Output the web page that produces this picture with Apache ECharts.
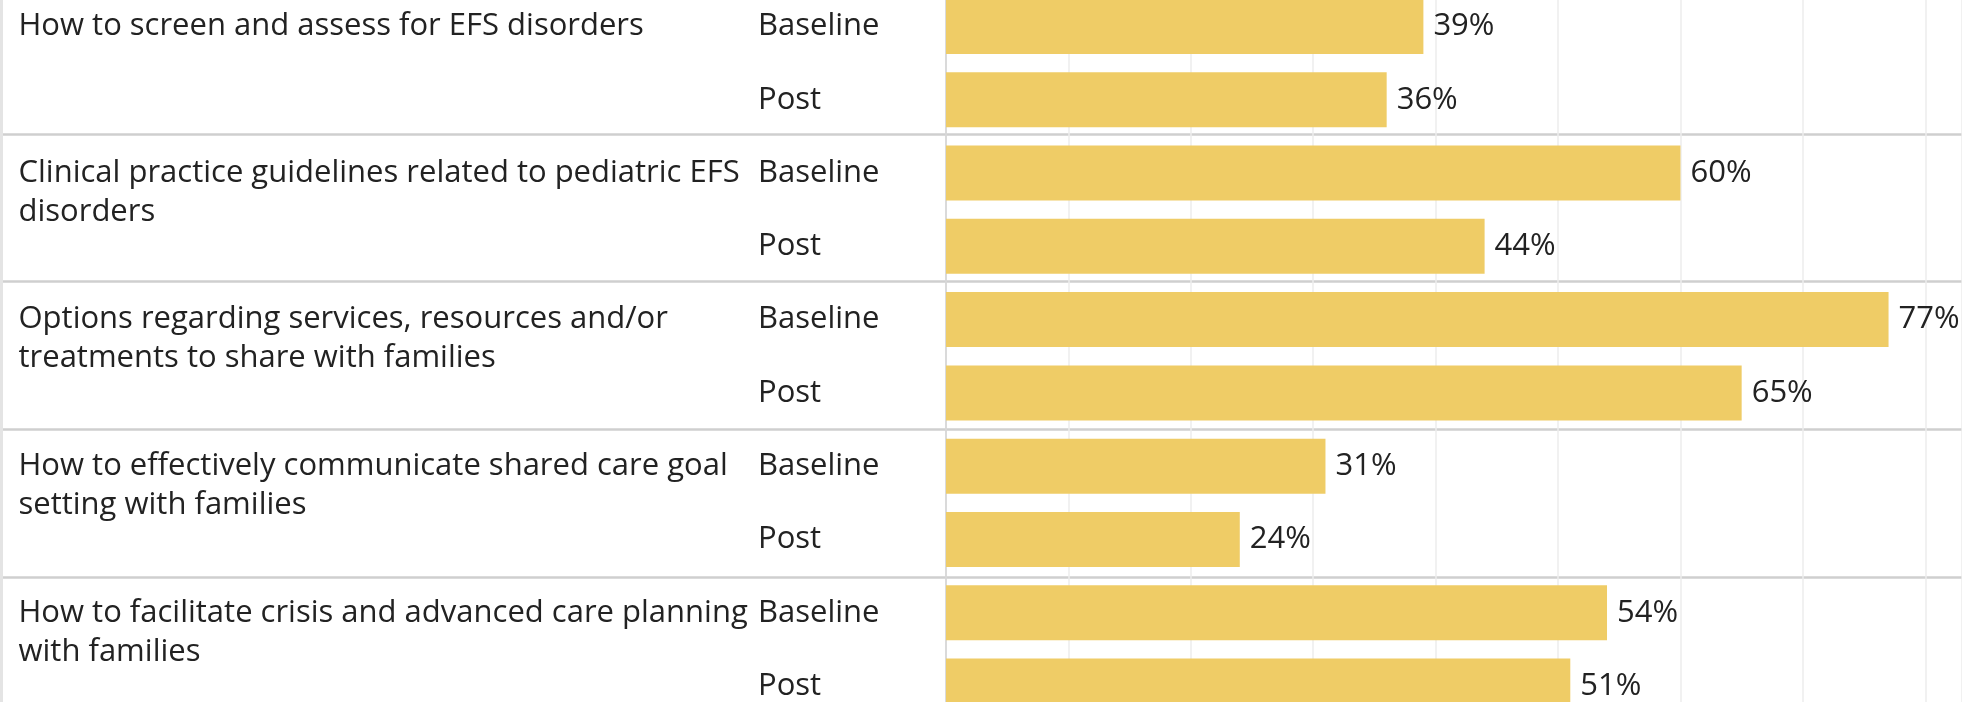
<!DOCTYPE html>
<html>
<head>
<meta charset="utf-8">
<script src="https://cdn.jsdelivr.net/npm/echarts@6/dist/echarts.min.js"></script>
<style>
html,body{margin:0;padding:0;background:#fff;}
#chart{width:1962px;height:702px;}
</style>
</head>
<body>
<div id="chart"></div>
<script>
// ---- data ----
const groups = [
  'How to screen and assess for EFS disorders',
  'Clinical practice guidelines related to pediatric EFS\ndisorders',
  'Options regarding services, resources and/or\ntreatments to share with families',
  'How to effectively communicate shared care goal\nsetting with families',
  'How to facilitate crisis and advanced care planning\nwith families'
];
const measures = ['Baseline', 'Post'];
const baselineValues = [39, 60, 77, 31, 54];
const postValues = [36, 44, 65, 24, 51];

// ---- build rows (group x measure) ----
const rowKeys = [];
const rowValues = [];
groups.forEach((g, i) => {
  rowKeys.push(i + '|' + measures[0]);
  rowValues.push(baselineValues[i]);
  rowKeys.push(i + '|' + measures[1]);
  rowValues.push(postValues[i]);
});

const FONT = 'Open Sans';
const FS = 31;
const TXT = '#222222';
const AXIS_X = 946;
// separator layout (row dividers) and bar layout
const SEP_TOP = -13.8, SEP_H = 738.8;
const BAR_TOP = -10.25, BAR_H = 733;

const chart = echarts.init(document.getElementById('chart'), null, {renderer: 'canvas'});

const sepSplit = {show: true, interval: (idx) => idx % 2 === 0, lineStyle: {color: '#cfcfcf', width: 2.5}};

chart.setOption({
  animation: false,
  backgroundColor: '#ffffff',
  grid: [
    {left: 1.5, width: AXIS_X - 1.5, top: SEP_TOP, height: SEP_H, outerBoundsMode: 'none', containLabel: false}, // 0 label pane separators
    {left: AXIS_X, right: 0, top: SEP_TOP, height: SEP_H, outerBoundsMode: 'none', containLabel: false},       // 1 bar pane separators
    {left: 1.5, width: AXIS_X - 1.5, top: BAR_TOP, height: BAR_H, outerBoundsMode: 'none', containLabel: false}, // 2 label pane labels
    {left: AXIS_X, right: 0, top: BAR_TOP, height: BAR_H, outerBoundsMode: 'none', containLabel: false}        // 3 bars
  ],
  xAxis: [
    {gridIndex: 0, type: 'value', min: 0, max: 1, show: false},
    {gridIndex: 1, type: 'value', min: 0, max: 1, show: false},
    {gridIndex: 2, type: 'value', min: 0, max: 1, show: false},
    {gridIndex: 3, type: 'value', min: 0, max: 83, interval: 10,
     axisLine: {show: false}, axisTick: {show: false}, axisLabel: {show: false},
     splitLine: {show: true, lineStyle: {color: '#ededed', width: 1.5}}}
  ],
  yAxis: [
    { // 0: left border + separators in label pane
      gridIndex: 0, type: 'category', data: rowKeys, inverse: true, position: 'left',
      axisLine: {show: true, lineStyle: {color: '#e4e4e4', width: 3}},
      axisTick: {show: false}, axisLabel: {show: false},
      splitLine: sepSplit
    },
    { // 1: separators in bar pane
      gridIndex: 1, type: 'category', data: rowKeys, inverse: true, position: 'left',
      axisLine: {show: false}, axisTick: {show: false}, axisLabel: {show: false},
      splitLine: sepSplit
    },
    { // 2: group labels
      gridIndex: 2, type: 'category', data: rowKeys, inverse: true, position: 'left',
      axisLine: {show: false}, axisTick: {show: false}, splitLine: {show: false},
      axisLabel: {
        show: true, inside: true, margin: 17, interval: 0, align: 'left',
        verticalAlign: 'top', lineHeight: 39, padding: [-19.5, 0, 0, 0],
        fontFamily: FONT, fontSize: FS, color: TXT,
        formatter: (v, idx) => idx % 2 === 0 ? groups[idx / 2] : ''
      }
    },
    { // 3: Baseline / Post labels
      gridIndex: 2, type: 'category', data: rowKeys, inverse: true, position: 'right',
      axisLine: {show: false}, axisTick: {show: false}, splitLine: {show: false},
      axisLabel: {
        show: true, inside: true, margin: AXIS_X - 758, interval: 0, align: 'left',
        fontFamily: FONT, fontSize: FS, color: TXT,
        formatter: (v, idx) => measures[idx % 2]
      }
    },
    { // 4: bar pane axis
      gridIndex: 3, type: 'category', data: rowKeys, inverse: true, position: 'left',
      axisLine: {show: true, lineStyle: {color: '#d2d2d2', width: 1.5}},
      axisTick: {show: false}, axisLabel: {show: false}, splitLine: {show: false}
    }
  ],
  series: [{
    type: 'bar', xAxisIndex: 3, yAxisIndex: 4,
    data: rowValues, barWidth: 55,
    itemStyle: {color: '#EFCC66'},
    label: {show: true, position: 'right', distance: 10, formatter: '{c}%',
            fontFamily: FONT, fontSize: FS, color: TXT}
  }]
});
</script>
</body>
</html>
